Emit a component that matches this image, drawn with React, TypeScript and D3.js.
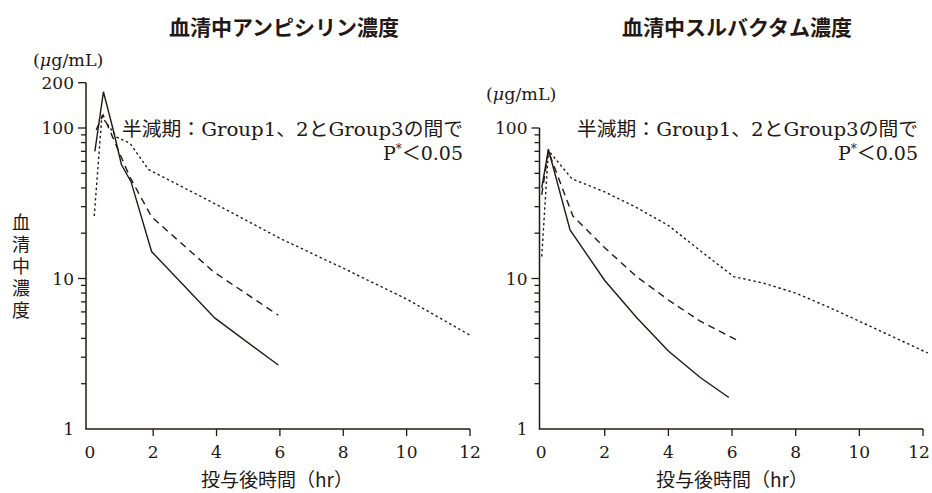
import React from "react";
import * as d3 from "d3";

// 投与後時間 (hr) の目盛
const hourTicks = [0, 2, 4, 6, 8, 10, 12];
// 濃度軸 (対数) の目盛
const majorConcTicks = [10, 100, 200];
const minorConcTicks = [2, 3, 4, 5, 6, 7, 8, 9, 20, 30, 40, 50, 60, 70, 80, 90];

// 血清中アンピシリン濃度 (μg/mL)
const abpcTimeG1 = [0.16, 0.43, 0.74, 1.0, 1.3, 1.95, 3.95, 5.95];
const abpcConcG1 = [70, 174, 97, 57, 44, 15.1, 5.45, 2.66];
const abpcTimeG2 = [0.2, 0.42, 1.27, 1.95, 3.9, 5.95];
const abpcConcG2 = [97, 122, 47, 25.7, 11.1, 5.7];
const abpcTimeG3 = [0.14, 0.38, 0.85, 1.27, 1.85, 4, 6, 8, 10, 12];
const abpcConcG3 = [26, 119, 87, 79, 53, 31, 18.5, 11.7, 7.3, 4.2];

// 血清中スルバクタム濃度 (μg/mL)
const sbtTimeG1 = [0.02, 0.23, 0.91, 2, 3, 4, 5, 5.9];
const sbtConcG1 = [40, 72, 21, 9.7, 5.5, 3.3, 2.2, 1.62];
const sbtTimeG2 = [0.02, 0.23, 1, 2, 3, 4, 5, 6.15];
const sbtConcG2 = [36, 70, 26, 16, 10.3, 7.2, 5.2, 3.9];
const sbtTimeG3 = [0.02, 0.23, 0.97, 2, 3, 4, 5, 6.05, 7, 8, 9, 10, 12.15];
const sbtConcG3 = [14, 71, 46, 37.6, 29.6, 22.5, 15.3, 10.3, 9.3, 8, 6.5, 5.2, 3.2];

const INK = "#231815";
const NUM_FONT = "'DejaVu Serif', 'Noto Sans CJK JP', serif";
const JP_FONT = "'Noto Sans CJK JP', sans-serif";

const DASH = { g1: "none", g2: "7 5", g3: "2.4 2.8" };

type Series = { t: number[]; c: number[]; dash: string };

type PanelProps = {
  title: string;
  titleX: number;
  left: number;
  right: number;
  xStart: number;
  yMax: number;
  series: Series[];
  unitX: number;
  unitY: number;
  noteX: number;
  noteEnd: number;
  axisTitleX: number;
  showYTitle: boolean;
};

const BASE_Y = 429;
const TOP_100 = 128;

function Panel(p: PanelProps) {
  const x = d3.scaleLinear().domain([p.xStart, 12]).range([p.left, p.right]);
  const y = d3.scaleLog().domain([1, 100]).range([BASE_Y, TOP_100]);
  const line = d3
    .line<[number, number]>()
    .x((d) => x(d[0]))
    .y((d) => y(d[1]));

  const majors = majorConcTicks.filter((v) => v <= p.yMax);
  const minors = minorConcTicks.filter((v) => v < p.yMax);
  const ax = p.left;

  return (
    <g>
      <text
        x={p.titleX}
        y={35}
        textAnchor="middle"
        fontFamily={JP_FONT}
        fontWeight="bold"
        fontSize={21}
        fill={INK}
      >
        {p.title}
      </text>

      <text x={p.unitX} y={p.unitY} fontFamily={NUM_FONT} fontSize={17.5} fill={INK}>
        (<tspan fontStyle="italic">μ</tspan>g/mL)
      </text>

      {/* 軸 */}
      <line x1={ax} x2={ax} y1={BASE_Y} y2={y(p.yMax)} stroke={INK} strokeWidth={1.5} />
      <line x1={ax - 0.75} x2={p.right} y1={BASE_Y} y2={BASE_Y} stroke={INK} strokeWidth={1.5} />

      {majors.map((v) => (
        <line key={"M" + v} x1={ax - 8} x2={ax} y1={y(v)} y2={y(v)} stroke={INK} strokeWidth={1.3} />
      ))}
      {minors.map((v) => (
        <line key={"m" + v} x1={ax - 5} x2={ax} y1={y(v)} y2={y(v)} stroke={INK} strokeWidth={1.3} />
      ))}
      {[1, ...majors].map((v) => (
        <text
          key={"L" + v}
          x={ax - 12}
          y={y(v)}
          dy="0.36em"
          textAnchor="end"
          fontFamily={NUM_FONT}
          fontSize={17}
          fill={INK}
        >
          {v}
        </text>
      ))}

      {hourTicks.map((h) => (
        <g key={"h" + h}>
          {h > 0 && (
            <line x1={x(h)} x2={x(h)} y1={BASE_Y} y2={BASE_Y + 7} stroke={INK} strokeWidth={1.3} />
          )}
          <text
            x={Math.min(x(h), 919)}
            y={458}
            textAnchor="middle"
            fontFamily={NUM_FONT}
            fontSize={17}
            fill={INK}
          >
            {h}
          </text>
        </g>
      ))}

      <text
        x={p.axisTitleX}
        y={487}
        textAnchor="middle"
        fontFamily={JP_FONT}
        fontSize={19}
        fill={INK}
        textLength={152}
        lengthAdjust="spacingAndGlyphs"
      >
        投与後時間（hr）
      </text>

      {p.showYTitle && (
        <text
          x={21}
          y={213}
          fontFamily={JP_FONT}
          fontSize={18}
          fill={INK}
          style={{ writingMode: "vertical-rl", letterSpacing: "4px" }}
        >
          血清中濃度
        </text>
      )}

      {/* 系列 */}
      {p.series.map((s, i) => (
        <path
          key={i}
          d={line(s.t.map((t, k) => [t, s.c[k]] as [number, number])) || ""}
          fill="none"
          stroke={INK}
          strokeWidth={1.4}
          strokeDasharray={s.dash}
        />
      ))}

      <text
        x={p.noteX}
        y={136}
        fontFamily={NUM_FONT}
        fontSize={19}
        fill={INK}
        textLength={341}
        lengthAdjust="spacingAndGlyphs"
      >
        半減期：Group1、2とGroup3の間で
      </text>
      <text x={p.noteEnd} y={160} textAnchor="end" fontFamily={NUM_FONT} fontSize={19} fill={INK}>
        P
        <tspan fontSize={12} dy={-7}>
          *
        </tspan>
        <tspan dy={7}>＜0.05</tspan>
      </text>
    </g>
  );
}

export default function App() {
  return (
    <svg
      width={932}
      height={493}
      viewBox="0 0 932 493"
      style={{ position: "absolute", left: 0, top: 0, background: "#fff" }}
    >
      <rect width={932} height={493} fill="#fff" />
      <Panel
        title="血清中アンピシリン濃度"
        titleX={284}
        left={86}
        right={470}
        xStart={-0.12}
        yMax={200}
        series={[
          { t: abpcTimeG1, c: abpcConcG1, dash: DASH.g1 },
          { t: abpcTimeG2, c: abpcConcG2, dash: DASH.g2 },
          { t: abpcTimeG3, c: abpcConcG3, dash: DASH.g3 },
        ]}
        unitX={33}
        unitY={66}
        noteX={122}
        noteEnd={463}
        axisTitleX={277}
        showYTitle={true}
      />
      <Panel
        title="血清中スルバクタム濃度"
        titleX={737}
        left={539.5}
        right={923}
        xStart={-0.05}
        yMax={100}
        series={[
          { t: sbtTimeG1, c: sbtConcG1, dash: DASH.g1 },
          { t: sbtTimeG2, c: sbtConcG2, dash: DASH.g2 },
          { t: sbtTimeG3, c: sbtConcG3, dash: DASH.g3 },
        ]}
        unitX={486}
        unitY={100}
        noteX={577}
        noteEnd={918}
        axisTitleX={732}
        showYTitle={false}
      />
    </svg>
  );
}
